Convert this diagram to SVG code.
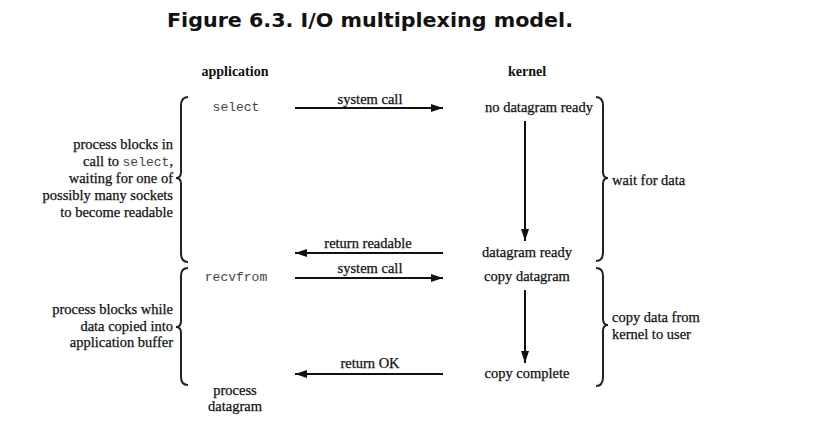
<svg xmlns="http://www.w3.org/2000/svg" width="813" height="428" viewBox="0 0 813 428">
<defs>
<marker id="ah" viewBox="0 0 12 8" refX="12" refY="4" markerWidth="12" markerHeight="8" markerUnits="userSpaceOnUse" orient="auto">
<path d="M0,0 L12,4 L0,8 Z" fill="#111"/>
</marker>
</defs>
<style>
.t{font-family:"Liberation Serif","DejaVu Serif",serif;font-size:14.5px;fill:#111;stroke:#111;stroke-width:0.25}
.m{font-family:"Liberation Mono","DejaVu Sans Mono",monospace;font-size:13px;fill:#444}
.h{font-family:"Liberation Serif","DejaVu Serif",serif;font-size:14px;font-weight:bold;fill:#111}
.c{stroke:#111;stroke-width:2;fill:none}
.b{stroke:#222;stroke-width:2;fill:none}
</style>
<rect width="813" height="428" fill="#fff"/>
<text x="370" y="27" text-anchor="middle" font-family="'DejaVu Sans',Verdana,sans-serif" font-size="20" font-weight="bold" fill="#111" textLength="406" lengthAdjust="spacingAndGlyphs">Figure 6.3. I/O multiplexing model.</text>
<g id="col-app"><text class="h" x="235" y="76" text-anchor="middle">application</text></g>
<g id="col-kernel"><text class="h" x="527" y="76" text-anchor="middle">kernel</text></g>

<g id="select"><text class="m" x="236" y="111" text-anchor="middle">select</text></g>
<g id="no-datagram-ready"><text class="t" x="539" y="112" text-anchor="middle">no datagram ready</text></g>
<g id="datagram-ready"><text class="t" x="527" y="257" text-anchor="middle">datagram ready</text></g>
<g id="recvfrom"><text class="m" x="236" y="281" text-anchor="middle">recvfrom</text></g>
<g id="copy-datagram"><text class="t" x="527" y="281" text-anchor="middle">copy datagram</text></g>
<g id="copy-complete"><text class="t" x="527" y="378" text-anchor="middle">copy complete</text></g>
<g id="process-datagram"><text class="t" x="235" y="395" text-anchor="middle">process</text><text class="t" x="235" y="411" text-anchor="middle">datagram</text></g>

<g id="brace-left-1">
<path class="b" d="M188,97 Q181,97 181,106 L181,172 Q181,178 176,178 Q181,178 181,184 L181,253 Q181,262 188,262"/>
<text class="t" text-anchor="end" x="173" y="149">process blocks in</text>
<text class="t" text-anchor="end" x="173" y="166">call to <tspan class="m" stroke="none">select</tspan>,</text>
<text class="t" text-anchor="end" x="173" y="183">waiting for one of</text>
<text class="t" text-anchor="end" x="173" y="200">possibly many sockets</text>
<text class="t" text-anchor="end" x="173" y="217">to become readable</text>
</g>
<g id="brace-left-2">
<path class="b" d="M188,268 Q181,268 181,276 L181,321 Q181,327 176,327 Q181,327 181,333 L181,377 Q181,385 188,385"/>
<text class="t" text-anchor="end" x="173" y="314">process blocks while</text>
<text class="t" text-anchor="end" x="173" y="331">data copied into</text>
<text class="t" text-anchor="end" x="173" y="347">application buffer</text>
</g>
<g id="brace-right-1">
<path class="b" d="M596,97 Q603,97 603,106 L603,172 Q603,178 608,178 Q603,178 603,184 L603,252 Q603,261 596,261"/>
<text class="t" x="612" y="185">wait for data</text>
</g>
<g id="brace-right-2">
<path class="b" d="M596,268 Q603,268 603,276 L603,319 Q603,325 608,325 Q603,325 603,331 L603,377 Q603,386 596,386"/>
<text class="t" x="612" y="322">copy data from</text>
<text class="t" x="612" y="339">kernel to user</text>
</g>

<g id="connectors">
<line class="c" x1="295" y1="108" x2="443" y2="108" marker-end="url(#ah)"/>
<text class="t" x="370" y="104" text-anchor="middle">system call</text>
<line class="c" x1="525" y1="121" x2="525" y2="241" marker-end="url(#ah)" stroke-width="1.5"/>
<line class="c" x1="443" y1="253" x2="295" y2="253" marker-end="url(#ah)"/>
<text class="t" x="368" y="248" text-anchor="middle">return readable</text>
<line class="c" x1="295" y1="278" x2="443" y2="278" marker-end="url(#ah)"/>
<text class="t" x="370" y="273" text-anchor="middle">system call</text>
<line class="c" x1="525" y1="290" x2="525" y2="363" marker-end="url(#ah)" stroke-width="1.5"/>
<line class="c" x1="443" y1="374" x2="295" y2="374" marker-end="url(#ah)"/>
<text class="t" x="370" y="368" text-anchor="middle">return OK</text>
</g>
</svg>
